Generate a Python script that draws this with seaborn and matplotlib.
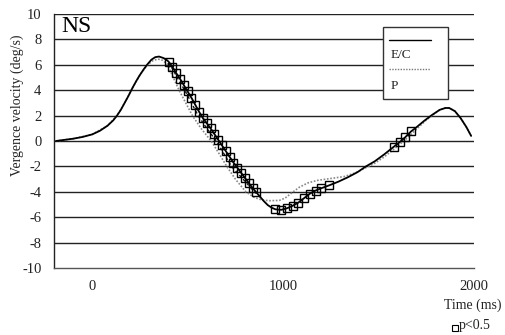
import numpy as np
import pandas as pd
import matplotlib
matplotlib.use("Agg")
import matplotlib.pyplot as plt
import seaborn as sns
from matplotlib.patches import Rectangle
from matplotlib.lines import Line2D

# ---- data ----
ec_t = [-190, -150, -100, -50, 0, 40, 80, 110, 130, 150, 170, 190, 210, 230, 250, 270, 290,
        310, 330, 350, 370, 385,
        400, 420, 440, 460, 480, 500, 520, 540, 560, 580, 600, 620, 640, 660, 680, 700,
        720, 740, 760, 780, 800, 820, 840, 860,
        880, 900, 920, 940, 960, 990, 1020, 1050, 1080, 1110, 1140, 1170, 1200, 1240,
        1290, 1340, 1390, 1434, 1480, 1530, 1580, 1610, 1640, 1670, 1700, 1740, 1780,
        1820, 1850, 1870, 1900, 1930, 1960, 1985]
ec_v = [0.0, 0.08, 0.18, 0.32, 0.52, 0.8, 1.2, 1.62, 2.0, 2.45, 3.0, 3.55, 4.15, 4.7, 5.2, 5.65, 6.05,
        6.4, 6.6, 6.65, 6.55, 6.45,
        6.25, 5.85, 5.35, 4.9, 4.4, 3.9, 3.4, 2.85, 2.3, 1.8, 1.4, 1.0, 0.55, 0.1, -0.35, -0.8,
        -1.25, -1.7, -2.1, -2.5, -2.9, -3.3, -3.7, -4.05,
        -4.4, -4.75, -5.05, -5.25, -5.38, -5.42, -5.3, -5.1, -4.85, -4.5, -4.15, -3.9, -3.72, -3.5,
        -3.2, -2.85, -2.45, -2.0, -1.6, -1.05, -0.45, -0.1, 0.3, 0.75, 1.1, 1.6, 2.05,
        2.45, 2.6, 2.6, 2.35, 1.8, 1.1, 0.4]

p_t = [-190, -100, 0, 80, 130, 170, 210, 250, 290, 320, 345, 370, 395, 425, 455, 490, 525, 570,
       623, 665, 705, 750, 805, 850, 890, 930, 980, 1010, 1040, 1084, 1130, 1180, 1250, 1320,
       1380, 1434, 1480, 1530, 1580, 1640, 1700, 1750, 1780, 1820, 1850, 1870, 1900, 1930, 1960, 1985]
p_v = [0.0, 0.18, 0.52, 1.2, 2.0, 3.0, 4.15, 5.2, 6.0, 6.35, 6.45, 6.35, 6.0, 5.0, 4.0, 3.0, 2.0, 1.0,
       0.0, -1.0, -2.0, -3.0, -4.0, -4.45, -4.65, -4.7, -4.68, -4.5, -4.15, -3.65, -3.3, -3.1, -2.95, -2.8,
       -2.5, -2.1, -1.75, -1.25, -0.65, 0.1, 0.95, 1.65, 2.0, 2.45, 2.6, 2.6, 2.35, 1.8, 1.1, 0.4]

d_t = [380, 420, 460, 485, 520, 555, 600, 650, 690, 730, 790, 850, 880]
d_v = [6.5, 5.7, 4.6, 4.0, 3.0, 2.0, 1.0, 0.0, -1.0, -2.0, -3.0, -4.0, -4.4]

sig_t = [400, 420, 440, 460, 480, 500, 520, 540, 560, 580, 600, 620, 640, 660, 680, 700,
         720, 740, 760, 780, 800, 820, 840, 860,
         960, 990, 1020, 1050, 1080, 1110, 1140, 1170, 1200, 1240,
         1580, 1610, 1640, 1670]
sig_v = [6.25, 5.85, 5.35, 4.9, 4.4, 3.9, 3.4, 2.85, 2.3, 1.8, 1.4, 1.0, 0.55, 0.1, -0.35, -0.8,
         -1.25, -1.7, -2.1, -2.5, -2.9, -3.3, -3.7, -4.05,
         -5.38, -5.42, -5.3, -5.1, -4.85, -4.5, -4.15, -3.9, -3.72, -3.5,
         -0.45, -0.1, 0.3, 0.75]

yticks = list(range(-10, 11, 2))
xticks = list(range(0, 2001, 200))
xlabels = {0: "0", 1000: "1000", 2000: "2000"}

# ---- plot ----
sns.set_theme(style="white")
plt.rcParams['font.family'] = ['Liberation Serif', 'DejaVu Sans']

W, H = 505, 335
fig = plt.figure(figsize=(W / 100, H / 100), dpi=100)
ax = fig.add_axes([54 / W, 1 - 268 / H, (474 - 54) / W, (268 - 14) / H])

for y in yticks[1:]:
    ax.axhline(y, color="#222222", lw=1.0, zorder=0)

ec = pd.DataFrame({"t": ec_t, "v": ec_v})
pp = pd.DataFrame({"t": p_t, "v": p_v})
dd = pd.DataFrame({"t": d_t, "v": d_v})
sg = pd.DataFrame({"t": sig_t, "v": sig_v})

sns.lineplot(data=pp, x="t", y="v", ax=ax, color="#888888", lw=1.2, linestyle=(0, (1, 1)),
             sort=False, estimator=None, zorder=2)
sns.lineplot(data=dd, x="t", y="v", ax=ax, color="#111111", lw=1.0, linestyle=(0, (2, 2)),
             sort=False, estimator=None, zorder=2)
sns.lineplot(data=ec, x="t", y="v", ax=ax, color="black", lw=1.3,
             sort=False, estimator=None, zorder=3)
sns.lineplot(data=sg, x="t", y="v", ax=ax, marker="s", linestyle="none", ms=5.2,
             mfc="none", mec="black", mew=1.0, color="black", sort=False, estimator=None, zorder=4)

ax.set_xlim(-200, 2000)
ax.set_ylim(-10, 10)
ax.set_yticks(yticks)
ax.set_yticklabels([str(v) for v in yticks])
ax.set_xticks(xticks)
ax.set_xticklabels([xlabels.get(v, "") for v in xticks])
ax.tick_params(axis="y", length=0, pad=9, labelsize=10.5, colors="#222222")
ax.tick_params(axis="x", direction="in", length=3, width=0.8, color="#444444", pad=9,
               labelsize=10.5, labelcolor="#222222")
ax.set_xlabel("")
ax.set_ylabel("")
for s in ["top", "right"]:
    ax.spines[s].set_visible(False)
ax.spines["left"].set_color("#222222")
ax.spines["bottom"].set_color("#555555")
ax.spines["left"].set_linewidth(1.0)
ax.spines["bottom"].set_linewidth(1.0)

ax.text(61 / W, 1 - 26 / H, "NS", transform=fig.transFigure, fontsize=17, va="center", ha="left",
        color="black")

fig.text(17 / W, 1 - 105 / H, "Vergence velocity (deg/s)", rotation=90, ha="center", va="center",
         fontsize=10, color="#222222")
fig.text(473 / W, 1 - 305 / H, "Time (ms)", ha="center", va="center", fontsize=10, color="#222222")

# legend box with handles above labels
tf = fig.transFigure
box = Rectangle((383 / W, 1 - 99 / H), (448 - 383) / W, (99 - 27) / H, transform=tf,
                facecolor="white", edgecolor="#333333", lw=1.0, zorder=5)
fig.add_artist(box)
fig.add_artist(Line2D([389 / W, 431 / W], [1 - 40 / H, 1 - 40 / H], transform=tf, color="black",
                      lw=1.0, zorder=6))
fig.add_artist(Line2D([389 / W, 430 / W], [1 - 69 / H, 1 - 69 / H], transform=tf, color="#777777",
                      lw=1.0, linestyle=(0, (1, 1)), zorder=6))
fig.text(391 / W, 1 - 55 / H, "E/C", ha="left", va="center", fontsize=9.5, color="#222222", zorder=6)
fig.text(391 / W, 1 - 86 / H, "P", ha="left", va="center", fontsize=9.5, color="#222222", zorder=6)

# p<0.5 key
fig.add_artist(Line2D([455 / W], [1 - 328 / H], transform=tf, marker="s", ms=5, mfc="none",
                      mec="black", mew=0.8, linestyle="none"))
fig.text(459 / W, 1 - 325 / H, "p<0.5", ha="left", va="center", fontsize=10, color="#222222")

fig.savefig("out.png", dpi=100)
